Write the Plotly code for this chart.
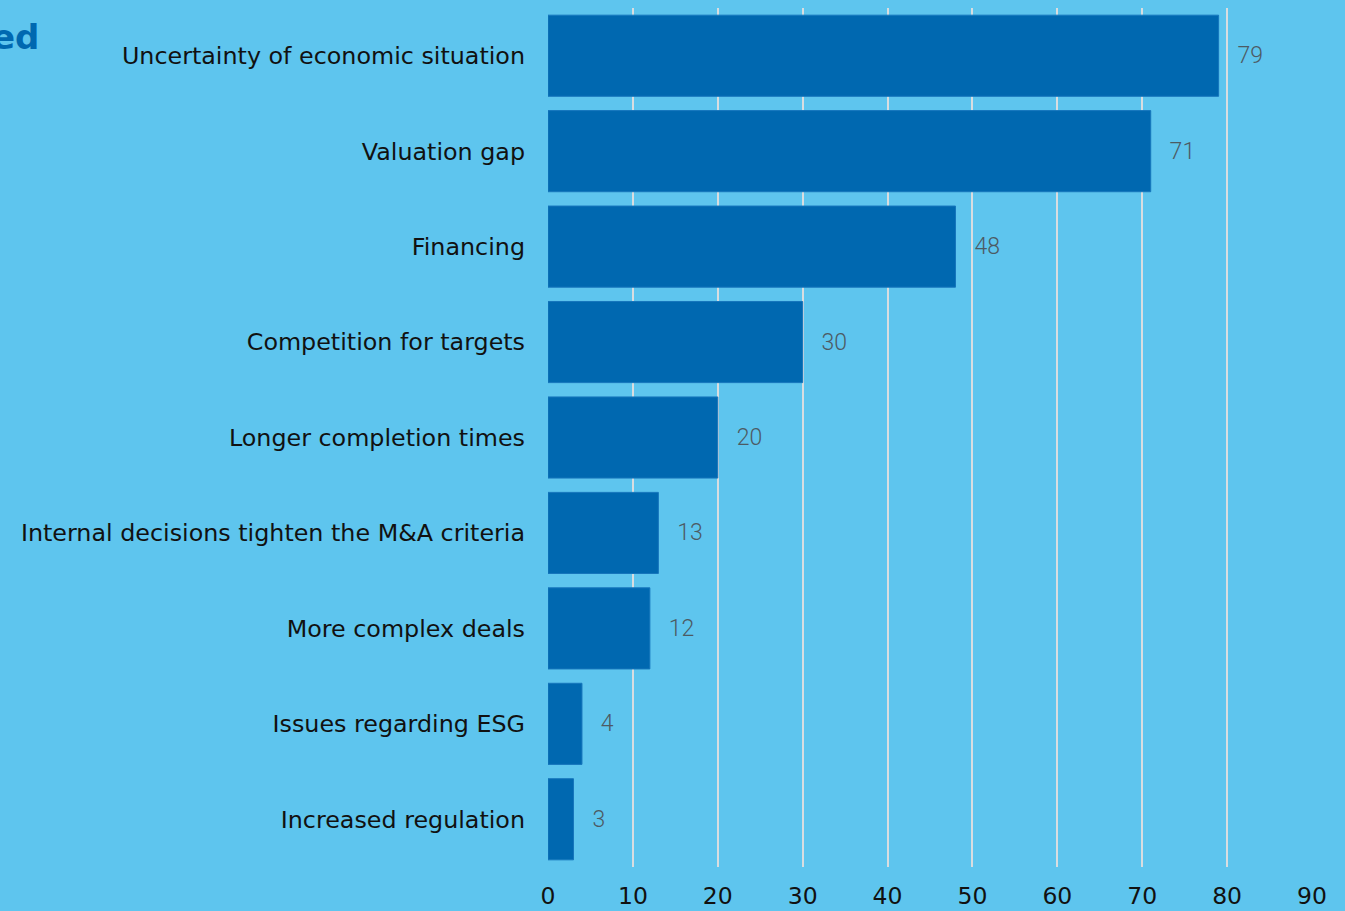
import plotly.graph_objects as go

# survey: obstacles to M&A deals (share of respondents)
categories = [
    "Uncertainty of economic situation",
    "Valuation gap",
    "Financing",
    "Competition for targets",
    "Longer completion times",
    "Internal decisions tighten the M&A criteria",
    "More complex deals",
    "Issues regarding ESG",
    "Increased regulation",
]
values = [79, 71, 48, 30, 20, 13, 12, 4, 3]
x_ticks = [0, 10, 20, 30, 40, 50, 60, 70, 80, 90]

BG = "#5EC5EE"
BAR = "#0068B0"

fig = go.Figure()
fig.add_trace(go.Bar(
    x=values,
    y=categories,
    orientation="h",
    marker={"color": BAR, "line": {"color": "#1676BC", "width": 1}},
    text=values,
    texttemplate="  \u2009%{x}",
    textposition="outside",
    textfont={"family": "Roboto", "size": 23, "color": "#4d5a63", "weight": 300},
    cliponaxis=False,
    hoverinfo="skip",
))

# title is cut off at the left edge in the original, only its tail shows
fig.add_annotation(
    text="<b>ed</b>",
    xref="paper", yref="paper",
    x=-548 / 764 + 41 / 764, y=1 + (8 - 37) / 859,
    xanchor="right", yanchor="middle",
    showarrow=False,
    font={"family": "DejaVu Sans", "size": 34, "color": BAR},
)

fig.update_layout(
    width=1345, height=911,
    margin={"l": 548, "r": 33, "t": 8, "b": 44},
    paper_bgcolor=BG,
    plot_bgcolor=BG,
    showlegend=False,
    bargap=0.15,
    font={"family": "DejaVu Sans", "size": 23, "color": "#111111"},
)
fig.update_xaxes(
    range=[0, 90],
    tickvals=x_ticks,
    showgrid=True,
    gridcolor="#d9dde0",
    gridwidth=1.5,
    zeroline=False,
    showline=False,
    ticks="",
    ticklabelstandoff=12,
    tickfont={"size": 23.5, "color": "#111111"},
    automargin=False,
    fixedrange=True,
)
fig.update_yaxes(
    autorange="reversed",
    showgrid=False,
    zeroline=False,
    ticks="",
    ticklabelstandoff=22,
    tickfont={"size": 23.8, "color": "#111111"},
    automargin=False,
    fixedrange=True,
)

fig.write_html(
    "out.html",
    config={"displayModeBar": False},
    post_script="document.body.style.margin='0';",
)
